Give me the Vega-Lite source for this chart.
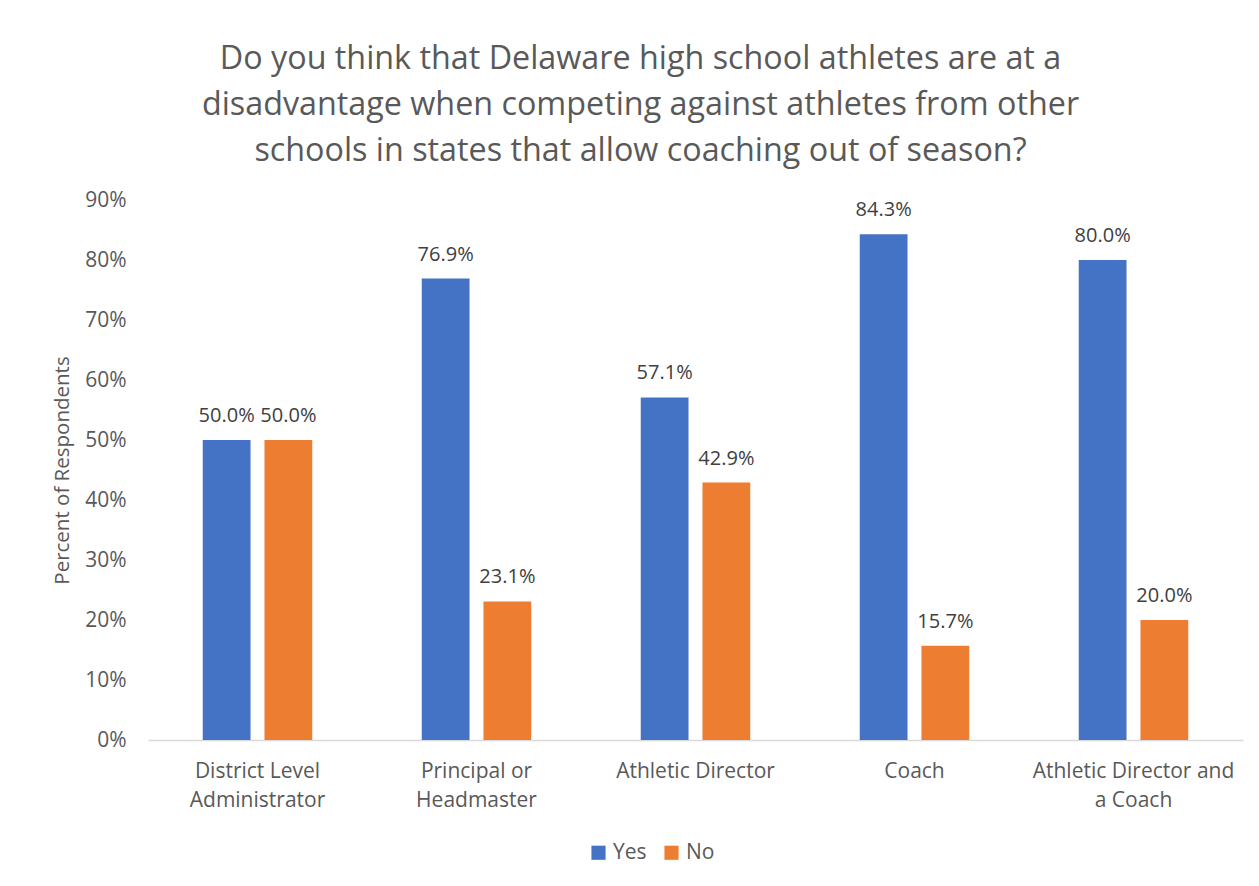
{
  "$schema": "https://vega.github.io/schema/vega-lite/v6.json",
  "width": 1095,
  "height": 540,
  "autosize": {"type": "none"},
  "padding": {"left": 148, "top": 200, "right": 16, "bottom": 146},
  "background": "white",
  "config": {"font": "Open Sans", "view": {"stroke": null}},
  "title": {
    "text": ["Do you think that Delaware high school athletes are at a", "disadvantage when competing against athletes from other", "schools in states that allow coaching out of season?"],
    "fontSize": 32.3,
    "fontWeight": "normal",
    "color": "#595959",
    "lineHeight": 46,
    "anchor": "middle",
    "dx": -55,
    "offset": 22
  },
  "data": {
    "values": [
      {"role": "District Level|Administrator", "answer": "Yes", "pct": 0.5},
      {"role": "District Level|Administrator", "answer": "No", "pct": 0.5},
      {"role": "Principal or|Headmaster", "answer": "Yes", "pct": 0.769},
      {"role": "Principal or|Headmaster", "answer": "No", "pct": 0.231},
      {"role": "Athletic Director", "answer": "Yes", "pct": 0.571},
      {"role": "Athletic Director", "answer": "No", "pct": 0.429},
      {"role": "Coach", "answer": "Yes", "pct": 0.843},
      {"role": "Coach", "answer": "No", "pct": 0.157},
      {"role": "Athletic Director and|a Coach", "answer": "Yes", "pct": 0.8},
      {"role": "Athletic Director and|a Coach", "answer": "No", "pct": 0.2}
    ]
  },
  "encoding": {
    "x": {
      "field": "role",
      "type": "nominal",
      "sort": ["District Level|Administrator", "Principal or|Headmaster", "Athletic Director", "Coach", "Athletic Director and|a Coach"],
      "scale": {"paddingInner": 0.5, "paddingOuter": 0.25},
      "axis": {
        "title": null,
        "labelExpr": "split(datum.label, '|')",
        "labelAngle": 0,
        "labelFontSize": 21,
        "labelColor": "#595959",
        "labelLineHeight": 29,
        "labelBaseline": "top",
        "labelPadding": 20,
        "labelLimit": 0,
        "ticks": false,
        "domainColor": "#d9d9d9",
        "domainWidth": 1.5
      }
    },
    "xOffset": {"field": "answer", "type": "nominal", "sort": ["Yes", "No"], "scale": {"paddingInner": 0.226}},
    "y": {
      "field": "pct",
      "type": "quantitative",
      "scale": {"domain": [0, 0.9]},
      "axis": {
        "title": "Percent of Respondents",
        "titleFontSize": 20.5,
        "titleFontWeight": "normal",
        "titleColor": "#595959",
        "titlePadding": 12,
        "values": [0, 0.1, 0.2, 0.3, 0.4, 0.5, 0.6, 0.7, 0.8, 0.9],
        "format": ".0%",
        "labelFontSize": 21,
        "labelColor": "#595959",
        "labelPadding": 22,
        "ticks": false,
        "domain": false,
        "grid": false
      }
    }
  },
  "layer": [
    {
      "mark": {"type": "bar"},
      "encoding": {
        "color": {
          "field": "answer",
          "type": "nominal",
          "sort": ["Yes", "No"],
          "scale": {"domain": ["Yes", "No"], "range": ["#4472C4", "#ED7D31"]},
          "legend": {
            "title": null,
            "orient": "none",
            "legendX": 440,
            "legendY": 642,
            "direction": "horizontal",
            "symbolType": "square",
            "symbolSize": 200,
            "symbolStrokeWidth": 0,
            "labelFontSize": 21,
            "labelColor": "#595959",
            "labelOffset": 4,
            "columnPadding": 14
          }
        }
      }
    },
    {
      "mark": {"type": "text", "baseline": "bottom", "dy": -14, "fontSize": 20, "color": "#404040"},
      "encoding": {"text": {"field": "pct", "type": "quantitative", "format": ".1%"}}
    }
  ]
}
